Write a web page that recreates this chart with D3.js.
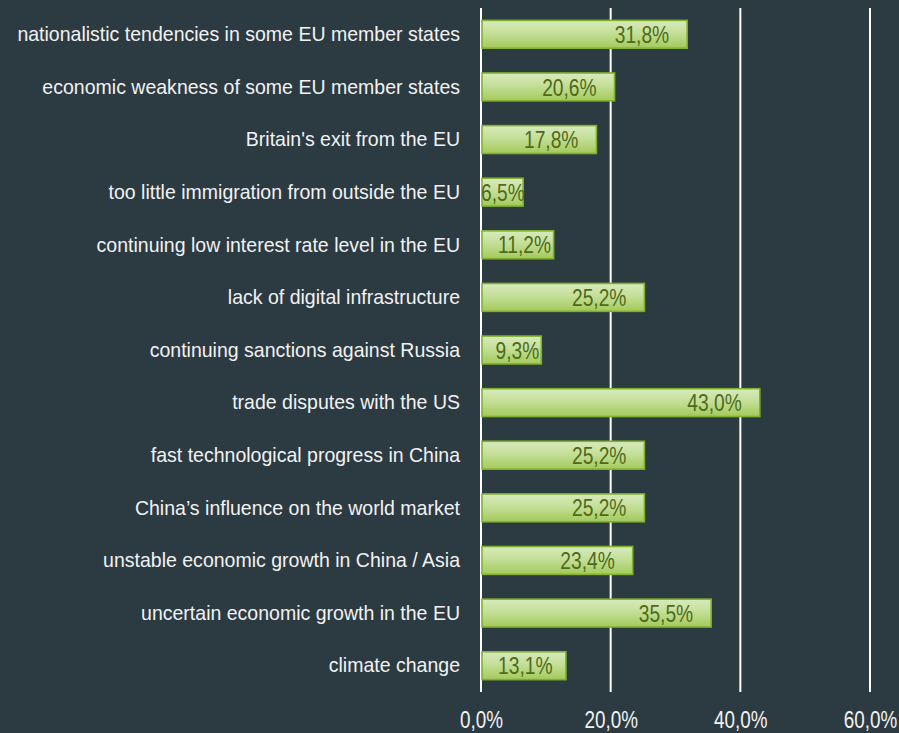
<!DOCTYPE html>
<html>
<head>
<meta charset="utf-8">
<script src="https://cdn.jsdelivr.net/npm/d3@7.9.0/dist/d3.min.js"></script>
<style>
  html, body { margin: 0; padding: 0; background: #2c3a42; }
  svg { display: block; }
  .narrow { font-family: "Liberation Sans", Arial, sans-serif; }
</style>
</head>
<body>
<div id="chart"></div>
<script>
const categories = [
  'nationalistic tendencies in some EU member states',
  'economic weakness of some EU member states',
  "Britain's exit from the EU",
  'too little immigration from outside the EU',
  'continuing low interest rate level in the EU',
  'lack of digital infrastructure',
  'continuing sanctions against Russia',
  'trade disputes with the US',
  'fast technological progress in China',
  'China\u2019s influence on the world market',
  'unstable economic growth in China / Asia',
  'uncertain economic growth in the EU',
  'climate change'
];
const values = [31.8, 20.6, 17.8, 6.5, 11.2, 25.2, 9.3, 43.0, 25.2, 25.2, 23.4, 35.5, 13.1];
const xTicks = [0, 20, 40, 60];

const width = 899;
const height = 733;
const margin = { top: 8, right: 29, bottom: 41, left: 481 };
// narrow faces emulated by horizontal scaling
const squeezeCat = 0.93;
const squeezeNum = 0.8;

const fmt = (v) => d3.format('.1f')(v).replace('.', ',') + '%';

const svg = d3.select('#chart')
  .append('svg')
  .attr('width', width)
  .attr('height', height);

const defs = svg.append('defs');
const grad = defs.append('linearGradient')
  .attr('id', 'barGrad')
  .attr('x1', 0).attr('y1', 0).attr('x2', 0).attr('y2', 1);
grad.append('stop').attr('offset', '0%').attr('stop-color', '#d8eabd');
grad.append('stop').attr('offset', '45%').attr('stop-color', '#c4df98');
grad.append('stop').attr('offset', '100%').attr('stop-color', '#a3ca5a');

const x = d3.scaleLinear().domain([0, 60]).range([margin.left, width - margin.right]);
const y = d3.scaleBand()
  .domain(categories)
  .range([margin.top, height - margin.bottom])
  .paddingInner(0.47)
  .paddingOuter(0.235);

// gridlines
svg.append('g')
  .selectAll('line')
  .data(xTicks)
  .join('line')
  .attr('x1', (d) => x(d))
  .attr('x2', (d) => x(d))
  .attr('y1', margin.top)
  .attr('y2', height - margin.bottom)
  .attr('stroke', '#ffffff')
  .attr('stroke-width', 2);

// x axis labels
const xAxis = d3.axisBottom(x).tickValues(xTicks).tickFormat(fmt).tickSize(0).tickPadding(0);
const gx = svg.append('g')
  .attr('transform', `translate(0, ${height - margin.bottom})`)
  .call(xAxis);
gx.select('.domain').remove();
gx.selectAll('text')
  .attr('class', 'narrow')
  .attr('fill', '#f2f2f2')
  .attr('y', 0)
  .attr('dy', 0)
  .attr('transform', `translate(0, 36) scale(0.82, 1)`)
  .style('font-size', '23px');

// category labels
const gy = svg.append('g')
  .attr('transform', `translate(${margin.left}, 0)`)
  .call(d3.axisLeft(y).tickSize(0).tickPadding(0));
gy.select('.domain').remove();
gy.selectAll('text')
  .attr('class', 'narrow')
  .attr('fill', '#f2f2f2')
  .attr('x', 0)
  .attr('transform', `translate(-21, 0) scale(${squeezeCat}, 1)`)
  .style('font-size', '21px');

// bars
const bars = svg.append('g')
  .selectAll('g')
  .data(values.map((v, i) => ({ cat: categories[i], value: v })))
  .join('g');

bars.append('rect')
  .attr('x', x(0) + 1)
  .attr('y', (d) => y(d.cat))
  .attr('width', (d) => x(d.value) - x(0) - 1)
  .attr('height', y.bandwidth())
  .attr('fill', 'url(#barGrad)')
  .attr('stroke', '#80b02c')
  .attr('stroke-width', 1.6);

// value labels: inside end, pushed right for short bars
bars.append('text')
  .attr('class', 'narrow')
  .attr('dy', '0.36em')
  .attr('text-anchor', 'end')
  .attr('fill', '#4e6a1c')
  .style('font-size', '24px')
  .text((d) => fmt(d.value))
  .attr('transform', function (d) {
    const w = this.getComputedTextLength() * squeezeNum;
    const end = x(d.value);
    let tx = Math.min(end - 2, Math.max(end - 18, x(0) + 17 + w));
    tx = Math.max(tx, x(0) + w);
    const ty = y(d.cat) + y.bandwidth() / 2;
    return `translate(${tx}, ${ty}) scale(${squeezeNum}, 1)`;
  });
</script>
</body>
</html>
